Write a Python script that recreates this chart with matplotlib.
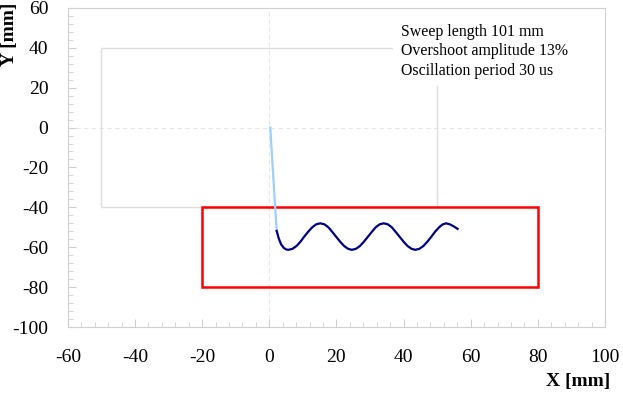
import matplotlib
matplotlib.use("Agg")
import matplotlib.pyplot as plt
from matplotlib.patches import Rectangle
from matplotlib.ticker import MultipleLocator, FuncFormatter

# fast sweep from the origin down to the target area
sweep_x = [0.3, 1.2, 2.2]
sweep_y = [0.0, -25.0, -51.8]

# ringing after the sweep
osc_x = [2.2, 2.8, 3.5, 4.3, 5.0, 5.7,
         6.9, 8.1, 9.3, 10.4, 11.6, 12.8, 14.0, 15.2,
         16.4, 17.6, 18.7, 19.9, 21.1, 22.3, 23.5, 24.6,
         25.8, 27.0, 28.2, 29.4, 30.6, 31.7, 32.9, 34.1,
         35.3, 36.5, 37.6, 38.8, 40.0, 41.2, 42.4, 43.5,
         44.7, 45.9, 47.1, 48.3, 49.4, 50.6, 51.6, 52.7,
         53.9, 55.0, 56.1]
osc_y = [-51.8, -55.5, -58.5, -60.3, -61.1, -61.3,
         -60.8, -59.4, -57.2, -54.7, -52.2, -50.0, -48.5, -48.0,
         -48.5, -50.0, -52.2, -54.7, -57.2, -59.4, -60.8, -61.3,
         -60.8, -59.4, -57.2, -54.7, -52.2, -50.0, -48.5, -48.0,
         -48.5, -50.0, -52.2, -54.7, -57.2, -59.4, -60.8, -61.3,
         -60.8, -59.4, -57.2, -54.7, -52.2, -50.0, -48.6, -48.0,
         -48.6, -49.6, -50.8]

# scan field (gray) and target window (red): x0, y0, width, height
field_box = [-50, -40, 100, 80]
target_box = [-20, -80, 100, 40]

info_lines = ["Sweep length 101 mm", "Overshoot amplitude 13%", "Oscillation period 30 us"]

serif = "Liberation Serif"
grey = "#d0d0d0"

fig = plt.figure(figsize=(6.23, 3.94), dpi=100)
ax = fig.add_axes([0.109, 0.170, 0.862, 0.810])

ax.add_patch(Rectangle((field_box[0], field_box[1]), field_box[2], field_box[3],
                       fill=False, ec="#dcdcdc", lw=1.0, zorder=1))
ax.add_patch(Rectangle((target_box[0], target_box[1]), target_box[2], target_box[3],
                       fill=False, ec="#ff0000", lw=1.8, zorder=3))

ax.axhline(0, color="#e6e6e6", lw=0.8, ls=(0, (4, 3)), zorder=0)
ax.axvline(0, color="#e6e6e6", lw=0.8, ls=(0, (4, 3)), zorder=0)

ax.plot(sweep_x, sweep_y, color="#9fcfff", lw=1.6, zorder=4)
ax.plot(osc_x, osc_y, color="#000080", lw=1.6, zorder=4)

# info block in the upper right, white box hides part of the field outline
ax.text(0.62, 0.95, "\n".join(info_lines), transform=ax.transAxes,
        fontsize=11.4, family=serif, va="top", ha="left", linespacing=1.28, zorder=2,
        bbox=dict(boxstyle="square,pad=0.5", fc="white", ec="none"))

ax.set_xlim(-60, 100)
ax.set_ylim(-100, 60)
ax.xaxis.set_major_locator(MultipleLocator(20))
ax.yaxis.set_major_locator(MultipleLocator(20))
ax.xaxis.set_minor_locator(MultipleLocator(4))
ax.yaxis.set_minor_locator(MultipleLocator(4))
ax.tick_params(which="both", direction="in", color=grey, labelsize=14)
ax.tick_params(axis="x", pad=16)
ax.tick_params(axis="y", pad=14)
ax.tick_params(which="major", length=6)
ax.tick_params(which="minor", length=3.5)
for lab in ax.get_xticklabels() + ax.get_yticklabels():
    lab.set_family(serif)
ax.xaxis.set_major_formatter(FuncFormatter(lambda v, p: "%d" % v))
ax.yaxis.set_major_formatter(FuncFormatter(lambda v, p: "%d" % v))
for s in ax.spines.values():
    s.set_color(grey)

ax.set_xlabel("X [mm]", fontsize=14, family=serif, fontweight="bold", loc="right")
ax.xaxis.set_label_coords(1.01, -0.145)
ax.set_ylabel("Y [mm]", fontsize=14, family=serif, fontweight="bold", loc="top")
ax.yaxis.set_label_coords(-0.093, 1.018)

fig.savefig("out.png", dpi=100)
